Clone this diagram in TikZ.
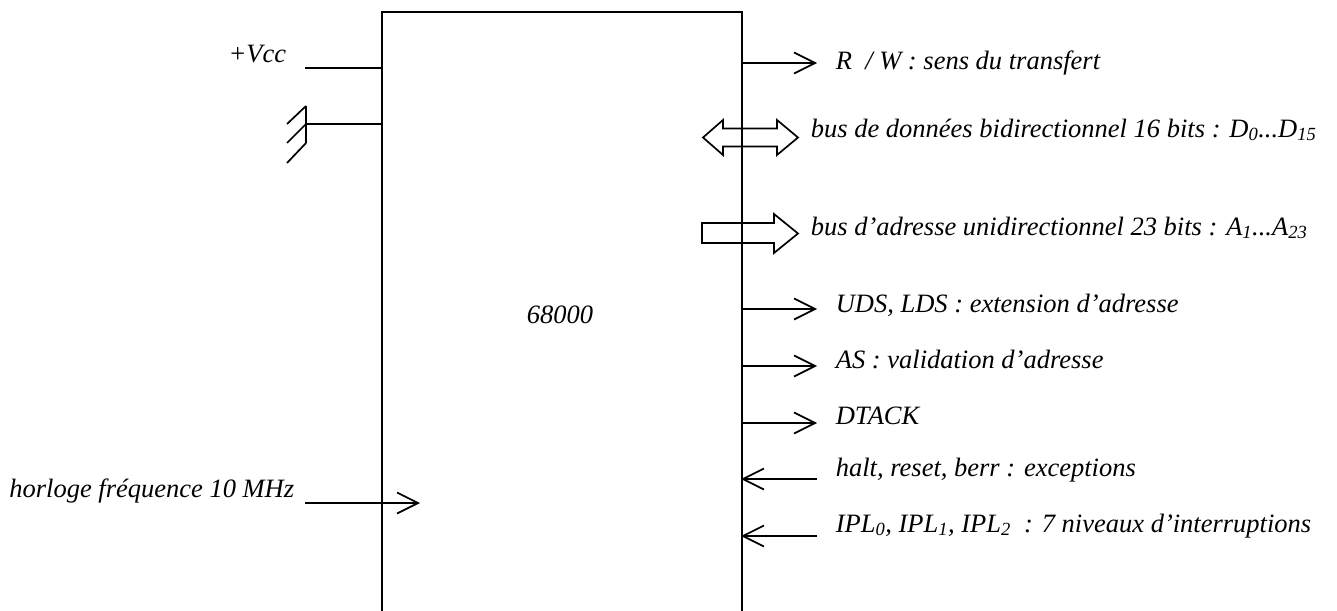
\documentclass[tikz,border=0pt]{standalone}
\usepackage{fontspec}
\setmainfont{Liberation Serif}
\usetikzlibrary{arrows.meta}

\begin{document}
\begin{tikzpicture}[x=1pt, y=-1pt, line width=1.7pt,
	sig/.style={-{Straight Barb[length=21pt, width=21pt]}},
	lbl/.style={font=\itshape\fontsize{26.5}{30}\selectfont, inner sep=0pt},
	bus/.style={line join=miter}]
			\useasboundingbox (0,0) rectangle (1337,610);
			\clip (0,0) rectangle (1337,610);
			
			% boitier du processeur (ouvert en bas)
			\node[draw, inner sep=0pt, minimum width=360pt, minimum height=606pt, anchor=north west] (cpu) at (381,11) {};
			\node[lbl, anchor=base] (nom) at (560,323) {68000};
			
			% alimentation et masse
			\node[lbl, anchor=base east] (vcc) at (287,63) {+Vcc};
			\coordinate (vccin) at (305,68);
			\coordinate (vccpin) at (381,68);
			\draw (vccin) -- (vccpin);
			
			\coordinate (gnd) at (306,124);
			\coordinate (gndpin) at (381,124);
			\draw (gnd) -- (gndpin);
			\draw (306,106) -- (306,143);
			\draw (306,106) -- (287,124) (306,124) -- (287,143) (306,143) -- (287,163);
			
			% horloge
			\node[lbl, anchor=base east] (clk) at (295,497) {horloge fréquence 10 MHz};
			\coordinate (clkin) at (305,503);
			\coordinate (clkpin) at (420,503);
			\draw[sig] (clkin) -- (clkpin);
			
			% sorties
			\coordinate (rw) at (741,63);
			\coordinate (rwend) at (817,63);
			\draw[sig] (rw) -- (rwend);
			\node[lbl, anchor=base west] (rwtxt) at (835,69) {R \ / W : sens du transfert};
			
			\coordinate (uds) at (741,309);
			\coordinate (udsend) at (817,309);
			\draw[sig] (uds) -- (udsend);
			\node[lbl, anchor=base west] (udstxt) at (835,312) {UDS, LDS : extension d’adresse};
			
			\coordinate (as) at (741,366);
			\coordinate (asend) at (817,366);
			\draw[sig] (as) -- (asend);
			\node[lbl, anchor=base west] (astxt) at (835,368) {AS : validation d’adresse};
			
			\coordinate (dtack) at (741,423);
			\coordinate (dtackend) at (817,423);
			\draw[sig] (dtack) -- (dtackend);
			\node[lbl, anchor=base west] (dtacktxt) at (835,424) {DTACK};
			
			% entrees
			\coordinate (halt) at (741,479);
			\coordinate (haltend) at (817,479);
			\draw[sig] (haltend) -- (halt);
			\node[lbl, anchor=base west] (halttxt) at (835,476) {halt, reset, berr : exceptions};
			
			\coordinate (ipl) at (741,536);
			\coordinate (iplend) at (817,536);
			\draw[sig] (iplend) -- (ipl);
			\node[lbl, anchor=base west] (ipltxt) at (835,532) {IPL\textsubscript{0}, IPL\textsubscript{1}, IPL\textsubscript{2} \ : 7 niveaux d’interruptions};
			
			% bus de donnees et d'adresse
			\draw[bus] (703,137.5) -- (723,120) -- (723,128.5) -- (777,128.5) -- (777,120) -- (798,137.5)
				-- (777,155) -- (777,146.5) -- (723,146.5) -- (723,155) -- cycle;
			\node[lbl, anchor=base west] (dtxt) at (810,137) {bus de données bidirectionnel 16 bits : D\textsubscript{0}...D\textsubscript{15}};
			
			\draw[bus] (702,223) -- (774,223) -- (774,214) -- (798,233.5) -- (774,253) -- (774,243) -- (702,243) -- cycle;
			\node[lbl, anchor=base west] (atxt) at (810,235) {bus d’adresse unidirectionnel 23 bits : A\textsubscript{1}...A\textsubscript{23}};
			
		\end{tikzpicture}
\end{document}
